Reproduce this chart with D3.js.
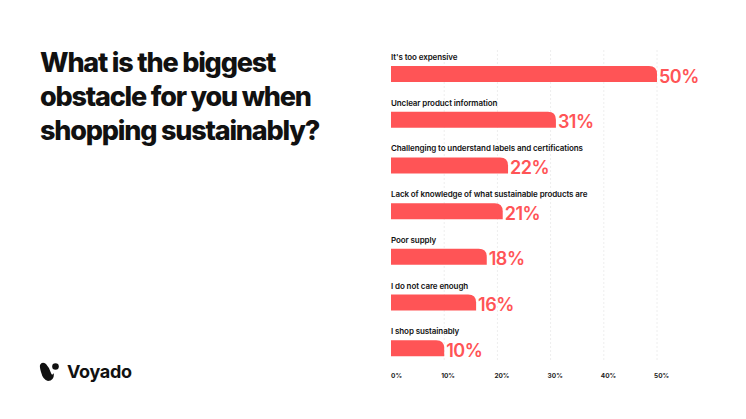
<!DOCTYPE html>
<html><head><meta charset="utf-8">
<script src="https://cdn.jsdelivr.net/npm/d3@7"></script>
<style>body{margin:0;background:#fff}svg{font-family:Inter,Lato,sans-serif}</style>
</head><body><div id="chart"></div>
<script>
const categories = ["It's too expensive","Unclear product information","Challenging to understand labels and certifications","Lack of knowledge of what sustainable products are","Poor supply","I do not care enough","I shop sustainably"]
const values = [50,31,22,21,18,16,10]
const ticks = [0,10,20,30,40,50]
const titleLines = ["What is the biggest","obstacle for you when","shopping sustainably?"]

const svg = d3.select('#chart').append('svg').attr('width',746).attr('height',419)

const x = d3.scaleLinear().domain([0,50]).range([391,657])
const y = d3.scaleBand().domain(categories).range([50,370]).paddingInner(0)

// gridlines
svg.selectAll('.grid').data(ticks.slice(1)).enter().append('line')
  .attr('x1',d=>x(d)).attr('x2',d=>x(d)).attr('y1',50).attr('y2',360)
  .attr('stroke','#eee').attr('stroke-dasharray','2,2')

const bh = 16
const barPath = d=>{
  const x0 = x(0), x1 = x(d.v), y0 = y(d.c)+16, r = Math.min(8, x1-x0)
  return `M${x0},${y0}H${x1-r}Q${x1},${y0} ${x1},${y0+r}V${y0+bh}H${x0}Z`
}
const rows = categories.map((c,i)=>({c, v: values[i]}))

svg.selectAll('.bar').data(rows).enter().append('path')
  .attr('d',barPath).attr('fill','#ff5456')

svg.selectAll('.cat').data(rows).enter().append('text')
  .attr('x',x(0)).attr('y',d=>y(d.c)+10).text(d=>d.c)
  .attr('font-size',8).attr('font-weight',600).attr('fill','#111').attr('letter-spacing',-0.1)

svg.selectAll('.val').data(rows).enter().append('text')
  .attr('x',d=>x(d.v)+2).attr('y',d=>y(d.c)+32.5).text(d=>d.v+'%')
  .attr('font-size',18).attr('font-weight',600).attr('fill','#ff5456').attr('letter-spacing',-0.5)

svg.selectAll('.tick').data(ticks).enter().append('text')
  .attr('x',d=>x(d)+ (d==0?0:-3)).attr('y',378).text(d=>d+'%')
  .attr('font-size',6.5).attr('font-weight',700).attr('fill','#222')

svg.selectAll('.title').data(titleLines).enter().append('text')
  .attr('x',40).attr('y',(d,i)=>72+i*34).text(d=>d)
  .attr('font-size',27).attr('font-weight',800).attr('fill','#111').attr('letter-spacing',-1.2)

// logo
const g = svg.append('g').attr('transform','translate(40,362)')
g.append('path').attr('d','M0,3 Q2,-1 6,2 Q9,5 11,11 Q12,14 14,11 Q14,19 8,19 Q3,18 1,10 Q-0.5,5 0,3Z').attr('fill','#111')
g.append('circle').attr('cx',15.5).attr('cy',4.5).attr('r',3.3).attr('fill','#111')
svg.append('text').attr('x',67).attr('y',378).text('Voyado')
  .attr('font-size',18).attr('font-weight',700).attr('fill','#111').attr('letter-spacing',-0.3)
</script></body></html>
